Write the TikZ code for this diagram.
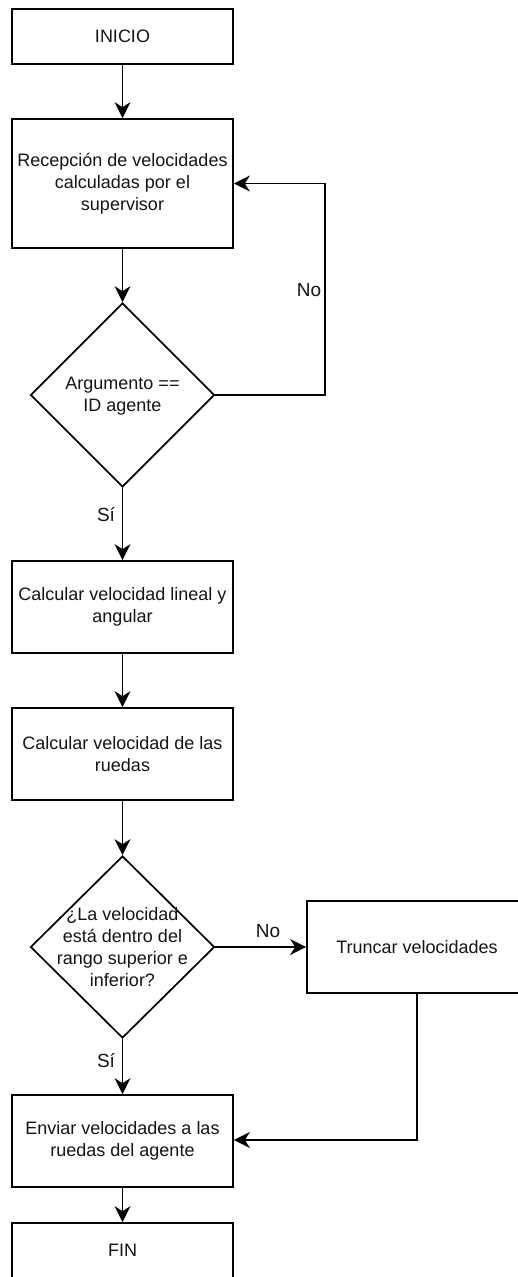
\documentclass[tikz,border=0pt]{standalone}
\usepackage{fontspec}
\setmainfont{Liberation Sans}
\usetikzlibrary{shapes.geometric,arrows.meta}
\begin{document}
\begin{tikzpicture}[x=1pt,y=1pt,
  every node/.style={font=\fontsize{18}{22}\selectfont, text=black!92},
  stepbox/.style={draw, rectangle, line width=1.7pt, minimum width=221pt, inner sep=0pt, align=center},
  decision/.style={draw, diamond, line width=1.7pt, minimum width=184pt, minimum height=184pt, inner sep=0pt},
  flow/.style={line width=1.7pt, -{Stealth[length=16pt,width=16pt,inset=5pt]}},
  lbl/.style={inner sep=0pt, font=\fontsize{19}{22}\selectfont}
]
\useasboundingbox (0,0) rectangle (518,-1277);

% process boxes and decisions
\node[stepbox, minimum height=55pt] (inicio) at (122.5,-36.5) {INICIO};
\node[stepbox, minimum height=129pt] (recep) at (122.5,-183.5) {Recepción de velocidades\\calculadas por el\\supervisor};
\node[decision] (d1) at (122.5,-395) {};
\node[align=center] (d1t) at (122.5,-396) {Argumento ==\\ID agente};
\node[stepbox, minimum height=92pt] (calc1) at (122.5,-607) {Calcular velocidad lineal y\\angular};
\node[stepbox, minimum height=92pt] (calc2) at (122.5,-754) {Calcular velocidad de las\\ruedas};
\node[decision, minimum height=182pt] (d2) at (122.5,-947) {};
\node[align=center] (d2t) at (122.5,-947) {¿La velocidad\\está dentro del\\rango superior e\\inferior?};
\node[stepbox, minimum width=220pt, minimum height=92pt] (trunc) at (417,-947) {Truncar velocidades};
\node[stepbox, minimum height=92pt] (envio) at (122.5,-1141) {Enviar velocidades a las\\ruedas del agente};
\node[stepbox, minimum height=55pt] (fin) at (122.5,-1250.5) {FIN};

% bend points of the side branches
\coordinate (c1) at (325,-395);
\coordinate (c2) at (325,-183.5);
\coordinate (c3) at (417,-1140);

% connectors
\draw[flow] (inicio.south) -- (recep.north);
\draw[flow] (recep.south) -- (d1.north);
\draw[flow] (d1.east) -- (c1) -- (c2) -- (recep.east);
\draw[flow] (d1.south) -- (calc1.north);
\draw[flow] (calc1.south) -- (calc2.north);
\draw[flow] (calc2.south) -- (d2.north);
\draw[flow] (d2.east) -- (trunc.west);
\draw[flow] (d2.south) -- (envio.north);
\draw[flow] (trunc.south) -- (c3) -- (envio.east |- c3);
\draw[flow] (envio.south) -- (fin.north);

% branch labels
\node[lbl] (no1) at (309,-290) {No};
\node[lbl] (si1) at (106,-515) {Sí};
\node[lbl] (no2) at (268,-931) {No};
\node[lbl] (si2) at (106,-1061) {Sí};
\end{tikzpicture}
\end{document}
